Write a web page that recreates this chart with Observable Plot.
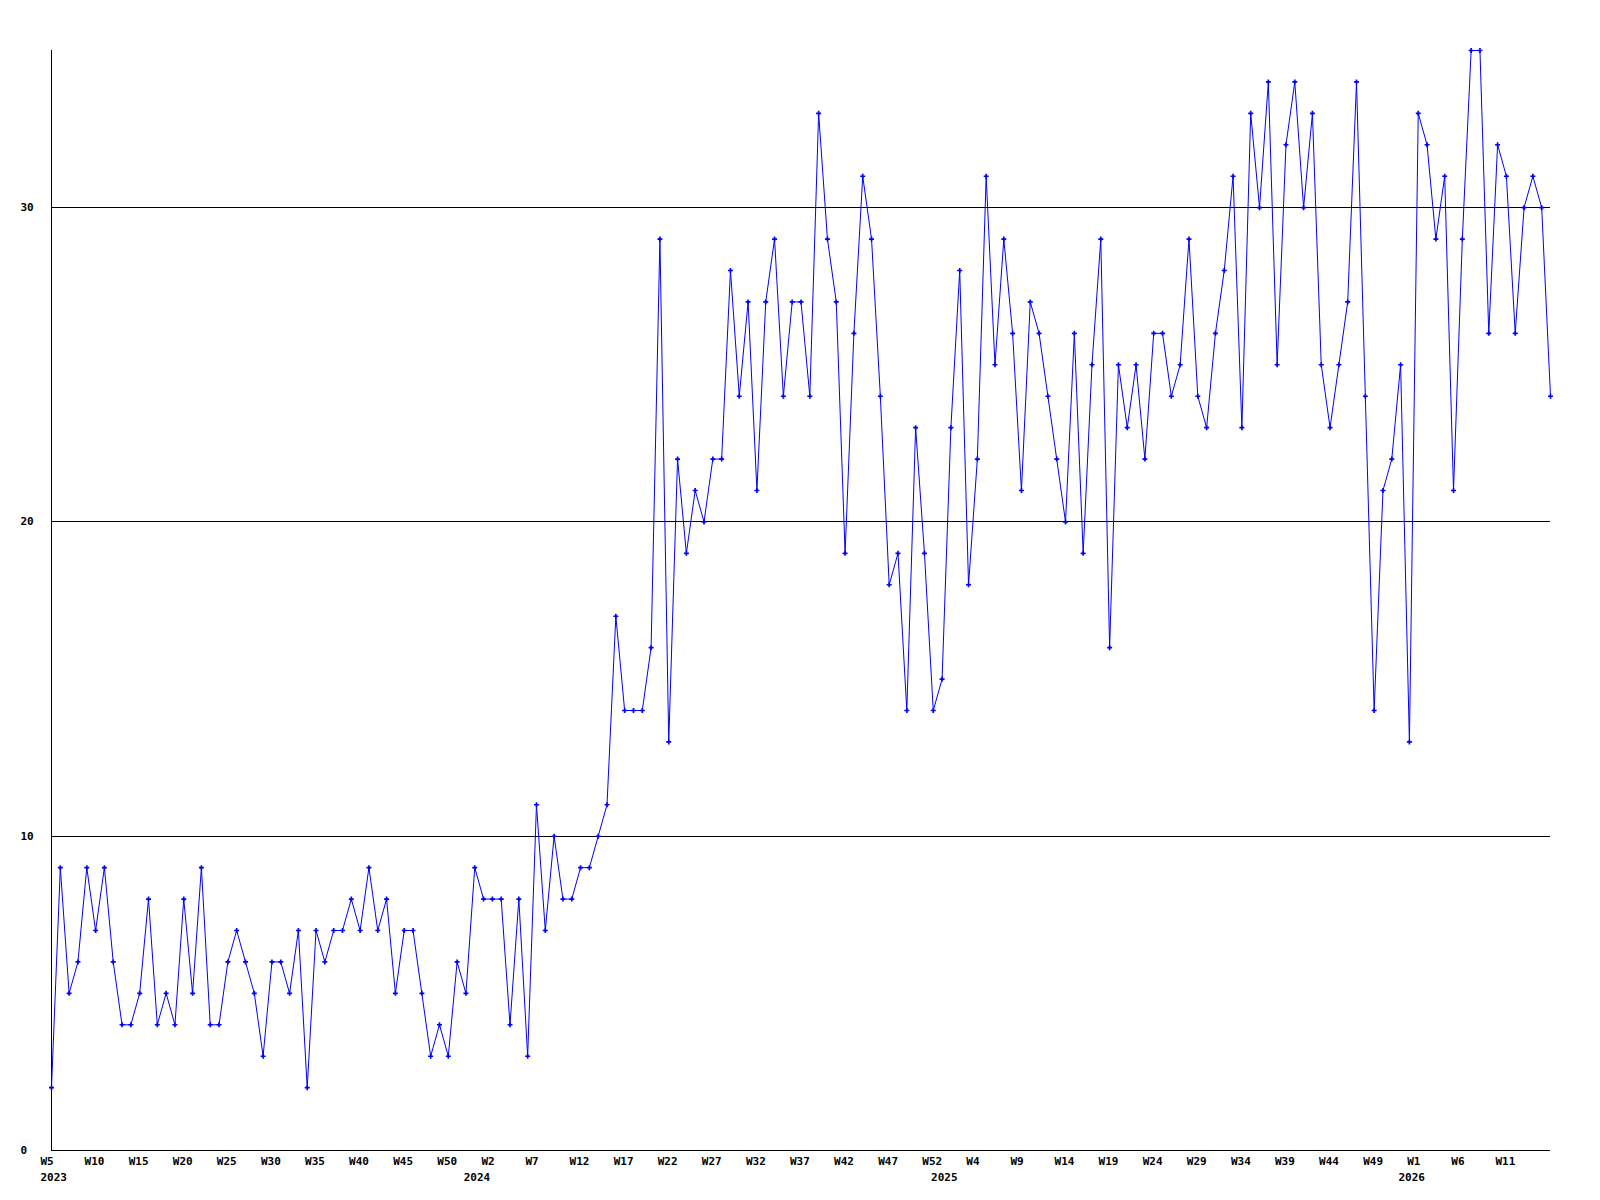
<!DOCTYPE html>
<html>
<head>
<meta charset="utf-8">
<script src="https://cdn.jsdelivr.net/npm/d3@7"></script>
<script src="https://cdn.jsdelivr.net/npm/@observablehq/plot@0.6"></script>
<style>
  html, body { margin: 0; padding: 0; background: #fff; }
  #chart svg { display: block; }
</style>
</head>
<body>
<div id="chart"></div>
<script>
// Weekly counts, 2023 W5 onward (one value per week)
const counts2023 = [2,9,5,6,9,7,9,6,4,4,5,8,4,5,4,8,5,9,4,4,6,7,6,5,3,6,6,5,7,2,7,6,7,7,8,7,9,7,8,5,7,7,5,3,4,3,6,5];
const counts2024 = [9,8,8,8,4,8,3,11,7,10,8,8,9,9,10,11,17,14,14,14,16,29,13,22,19,21,20,22,22,28,24,27,21,27,29,24,27,27,24,33,29,27,19,26,31,29,24,18,19,14,23,19];
const counts2025 = [14,15,23,28,18,22,31,25,29,26,21,27,26,24,22,20,26,19,25,29,16,25,23,25,22,26,26,24,25,29,24,23,26,28,31,23,33,30,34,25,32,34,30,33,25,23,25,27,34,24,14,21,22,25,13];
const counts2026 = [33,32,29,31,21,29,35,35,26,32,31,26,30,31,30,24];

// Tick labels (every 5th week) and year labels
const weekTicks = ["W5","W10","W15","W20","W25","W30","W35","W40","W45","W50","W2","W7","W12","W17","W22","W27","W32","W37","W42","W47","W52","W4","W9","W14","W19","W24","W29","W34","W39","W44","W49","W1","W6","W11"];
const yearLabels = ["2023","2024","2025","2026"];
const yearStartWeek = [0, 48, 101, 154]; // week index where each year label sits
const yTicks = [0, 10, 20, 30];

const counts = [...counts2023, ...counts2024, ...counts2025, ...counts2026];
const data = counts.map((v, i) => ({i, v}));
const tickIdx = weekTicks.map((_, k) => k * 5);

const plot = Plot.plot({
  width: 1600,
  height: 1200,
  marginLeft: 51,
  marginRight: 50,
  marginTop: 50,
  marginBottom: 50,
  style: {fontFamily: "'DejaVu Sans Mono', monospace", fontSize: "11px", fontWeight: "bold", color: "#000", background: "#fff"},
  x: {type: "linear", domain: [0, counts.length - 1], label: null},
  y: {domain: [0, 35], label: null},
  marks: [
    Plot.ruleY([10, 20, 30], {stroke: "#000", strokeWidth: 1, shapeRendering: "crispEdges"}),
    Plot.ruleY([0], {stroke: "#000", strokeWidth: 1, shapeRendering: "crispEdges"}),
    Plot.ruleX([0], {stroke: "#000", strokeWidth: 1, shapeRendering: "crispEdges"}),
    Plot.axisY({ticks: yTicks, label: null, tickSize: 0, tickPadding: 0, textAnchor: "start", dx: -31, fill: "#000"}),
    Plot.axisX({ticks: tickIdx, label: null, tickFormat: d => weekTicks[d / 5], tickSize: 0, tickPadding: 7, textAnchor: "start", dx: -11, fill: "#000"}),
    Plot.axisX({ticks: yearStartWeek, label: null, tickFormat: d => yearLabels[yearStartWeek.indexOf(d)], tickSize: 0, tickPadding: 23, textAnchor: "start", dx: -11, fill: "#000"}),
    Plot.line(data, {x: "i", y: "v", stroke: "#0000ff", strokeWidth: 1}),
    Plot.dot(data, {x: "i", y: "v", symbol: "cross", r: 2.1, fill: "#0000ff", stroke: "none"})
  ]
});
document.getElementById("chart").appendChild(plot);
</script>
</body>
</html>
